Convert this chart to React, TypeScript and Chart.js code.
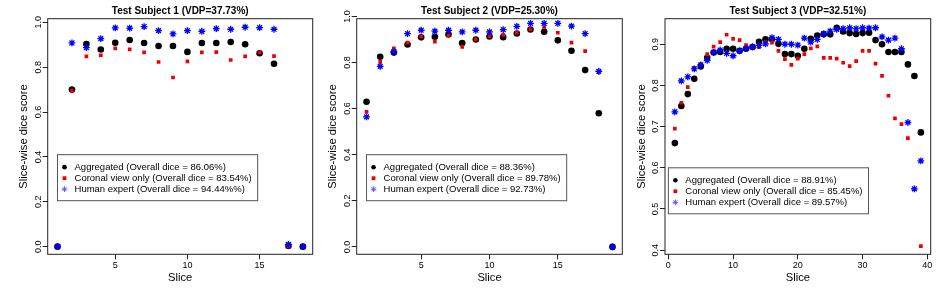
import React, { useEffect, useRef } from "react";
import { Chart, registerables } from "chart.js";

Chart.register(...registerables);

const FONT = '"Liberation Sans", Arial, Helvetica, sans-serif';

// ---------- Data ----------
const seriesNames = ["Aggregated", "Coronal view only", "Human expert"];

const slices1 = [1, 2, 3, 4, 5, 6, 7, 8, 9, 10, 11, 12, 13, 14, 15, 16, 17, 18];
const agg1 = [0, 0.700, 0.903, 0.879, 0.909, 0.921, 0.908, 0.894, 0.894, 0.868, 0.908, 0.908, 0.912, 0.902, 0.862, 0.815, 0.003, 0];
const cor1 = [0, 0.694, 0.848, 0.853, 0.884, 0.879, 0.866, 0.823, 0.754, 0.826, 0.866, 0.867, 0.832, 0.848, 0.866, 0.849, 0, 0];
const hum1 = [0, 0.908, 0.887, 0.927, 0.975, 0.974, 0.981, 0.963, 0.948, 0.963, 0.960, 0.972, 0.969, 0.978, 0.976, 0.969, 0.01, 0];
const legend1 = [
  "Aggregated (Overall dice = 86.06%)",
  "Coronal view only (Overall dice = 83.54%)",
  "Human expert (Overall dice = 94.44%%)",
];

const slices2 = [1, 2, 3, 4, 5, 6, 7, 8, 9, 10, 11, 12, 13, 14, 15, 16, 17, 18, 19];
const agg2 = [0.630, 0.825, 0.843, 0.878, 0.909, 0.912, 0.922, 0.884, 0.900, 0.913, 0.910, 0.926, 0.943, 0.933, 0.896, 0.851, 0.767, 0.580, 0];
const cor2 = [0.586, 0.803, 0.861, 0.886, 0.913, 0.890, 0.917, 0.868, 0.901, 0.914, 0.920, 0.929, 0.945, 0.953, 0.929, 0.886, 0.849, 0.757, 0];
const hum2 = [0.564, 0.783, 0.847, 0.925, 0.940, 0.936, 0.940, 0.933, 0.940, 0.933, 0.943, 0.957, 0.970, 0.970, 0.970, 0.958, 0.925, 0.762, 0];
const legend2 = [
  "Aggregated (Overall dice = 88.36%)",
  "Coronal view only (Overall dice = 89.78%)",
  "Human expert (Overall dice = 92.73%)",
];

const slices3 = [1, 2, 3, 4, 5, 6, 7, 8, 9, 10, 11, 12, 13, 14, 15, 16, 17, 18, 19, 20, 21, 22, 23, 24, 25, 26, 27, 28, 29, 30, 31, 32, 33, 34, 35, 36, 37, 38, 39];
const agg3 = [0.660, 0.750, 0.779, 0.816, 0.846, 0.867, 0.880, 0.881, 0.889, 0.889, 0.884, 0.889, 0.893, 0.906, 0.912, 0.912, 0.901, 0.876, 0.876, 0.872, 0.889, 0.913, 0.921, 0.924, 0.924, 0.940, 0.931, 0.927, 0.925, 0.927, 0.928, 0.910, 0.900, 0.881, 0.881, 0.881, 0.851, 0.823, 0.686];
const cor3 = [0.695, 0.758, 0.796, 0.843, 0.852, 0.876, 0.894, 0.905, 0.923, 0.913, 0.910, 0.898, 0.893, 0.893, 0.905, 0.904, 0.884, 0.864, 0.850, 0.865, 0.876, 0.890, 0.895, 0.867, 0.867, 0.865, 0.855, 0.847, 0.859, 0.884, 0.884, 0.853, 0.823, 0.775, 0.720, 0.706, 0.672, 0.548, 0.410];
const hum3 = [0.736, 0.811, 0.821, 0.840, 0.850, 0.861, 0.880, 0.886, 0.878, 0.872, 0.884, 0.890, 0.894, 0.897, 0.901, 0.916, 0.912, 0.900, 0.900, 0.898, 0.915, 0.905, 0.912, 0.926, 0.932, 0.936, 0.938, 0.940, 0.938, 0.940, 0.939, 0.940, 0.918, 0.910, 0.915, 0.889, 0.710, 0.549, 0.617];
const legend3 = [
  "Aggregated (Overall dice = 88.91%)",
  "Coronal view only (Overall dice = 85.45%)",
  "Human expert (Overall dice = 89.57%)",
];

const titles = ["Test Subject 1 (VDP=37.73%)", "Test Subject 2 (VDP=25.30%)", "Test Subject 3 (VDP=32.51%)"];
const xTicks12 = [5, 10, 15];
const xTicks3 = [0, 10, 20, 30, 40];
const yTicks12 = [0, 0.2, 0.4, 0.6, 0.8, 1.0];
const yTicks3 = [0.4, 0.5, 0.6, 0.7, 0.8, 0.9];
const xLabel = "Slice";
const yLabel = "Slice-wise dice score";

// ---------- Layout ----------
const H = 288;
const PLOT_TOP = 18.7;
const PLOT_BOTTOM = 254.3;

type PanelCfg = {
  title: string;
  slices: number[];
  agg: number[];
  cor: number[];
  hum: number[];
  legend: string[];
  xTicks: number[];
  yTicks: number[];
  xMin: number;
  xMax: number;
  yMin: number;
  yMax: number;
  legendAt: [number, number];
  left: number;
  width: number;
  yAxisWidth: number;
  padRight: number;
};

const panels: PanelCfg[] = [
  {
    title: titles[0], slices: slices1, agg: agg1, cor: cor1, hum: hum1, legend: legend1,
    xTicks: xTicks12, yTicks: yTicks12, xMin: 0.32, xMax: 18.68, yMin: -0.034, yMax: 1.016,
    legendAt: [1, 0.41], left: 0, width: 318, yAxisWidth: 47.7, padRight: 4.7,
  },
  {
    title: titles[1], slices: slices2, agg: agg2, cor: cor2, hum: hum2, legend: legend2,
    xTicks: xTicks12, yTicks: yTicks12, xMin: 0.28, xMax: 19.72, yMin: -0.032, yMax: 0.99,
    legendAt: [1, 0.40], left: 318, width: 310, yAxisWidth: 38.7, padRight: 5.7,
  },
  {
    title: titles[2], slices: slices3, agg: agg3, cor: cor3, hum: hum3, legend: legend3,
    xTicks: xTicks3, yTicks: yTicks3, xMin: -0.52, xMax: 40.52, yMin: 0.39, yMax: 0.962,
    legendAt: [0, 0.6], left: 628, width: 308, yAxisWidth: 37, padRight: 4,
  },
];

const COLORS = { agg: "#000000", cor: "#ee0000", hum: "#0000ff" };

function pts(xs: number[], ys: number[]) {
  return xs.map((x, i) => ({ x, y: ys[i] }));
}

function drawSymbol(ctx: CanvasRenderingContext2D, kind: number, x: number, y: number) {
  if (kind === 0) {
    ctx.fillStyle = COLORS.agg;
    ctx.beginPath();
    ctx.arc(x, y, 2.3, 0, Math.PI * 2);
    ctx.fill();
  } else if (kind === 1) {
    ctx.fillStyle = COLORS.cor;
    ctx.fillRect(x - 1.9, y - 1.9, 3.8, 3.8);
  } else {
    ctx.strokeStyle = "#5a5aff";
    ctx.lineWidth = 1;
    const r = 2.8;
    ctx.beginPath();
    ctx.moveTo(x - r, y); ctx.lineTo(x + r, y);
    ctx.moveTo(x, y - r); ctx.lineTo(x, y + r);
    const d = r * Math.SQRT1_2;
    ctx.moveTo(x - d, y - d); ctx.lineTo(x + d, y + d);
    ctx.moveTo(x - d, y + d); ctx.lineTo(x + d, y - d);
    ctx.stroke();
  }
}

function Panel({ cfg }: { cfg: PanelCfg }) {
  const ref = useRef<HTMLCanvasElement | null>(null);

  useEffect(() => {
    const canvas = ref.current;
    if (!canvas) return;

    const decor = {
      id: "decor",
      afterDraw(chart: any) {
        const { ctx, chartArea: a, scales } = chart;
        ctx.save();
        // frame
        ctx.strokeStyle = "#222";
        ctx.lineWidth = 1;
        ctx.strokeRect(a.left, a.top, a.right - a.left, a.bottom - a.top);

        ctx.fillStyle = "#000";
        ctx.textAlign = "center";
        ctx.textBaseline = "middle";
        // title
        ctx.font = `bold 10px ${FONT}`;
        ctx.fillText(cfg.title, (a.left + a.right) / 2, 11);
        // x label
        ctx.font = `11.2px ${FONT}`;
        ctx.fillText(xLabel, (a.left + a.right) / 2, 277.5);
        // y label
        ctx.save();
        ctx.translate(a.left - 23.5, (a.top + a.bottom) / 2);
        ctx.rotate(-Math.PI / 2);
        ctx.fillText(yLabel, 0, 0);
        ctx.restore();
        // y tick labels (rotated, as in R)
        ctx.font = `9px ${FONT}`;
        for (const t of scales.y.ticks) {
          const y = scales.y.getPixelForValue(t.value);
          ctx.save();
          ctx.translate(a.left - 9.5, y);
          ctx.rotate(-Math.PI / 2);
          ctx.fillText(Number(t.value).toFixed(1), 0, 0);
          ctx.restore();
        }
        // legend
        ctx.font = `9.5px ${FONT}`;
        const lx = scales.x.getPixelForValue(cfg.legendAt[0]);
        const ly = scales.y.getPixelForValue(cfg.legendAt[1]);
        const tw = Math.max(...cfg.legend.map((l) => ctx.measureText(l).width));
        const w = 17 + tw + 6;
        const h = 46;
        ctx.fillStyle = "#fff";
        ctx.fillRect(lx, ly, w, h);
        ctx.strokeStyle = "#555";
        ctx.lineWidth = 1;
        ctx.strokeRect(lx, ly, w, h);
        ctx.textAlign = "left";
        cfg.legend.forEach((label, i) => {
          const ry = ly + 12.5 + i * 11;
          drawSymbol(ctx, i, lx + 7, ry);
          ctx.fillStyle = "#000";
          ctx.fillText(label, lx + 17, ry);
        });
        ctx.restore();
      },
    };

    const chart = new Chart(canvas, {
      type: "scatter",
      data: {
        datasets: [
          {
            label: seriesNames[0],
            data: pts(cfg.slices, cfg.agg),
            pointStyle: "circle",
            pointRadius: 3.3,
            pointBackgroundColor: COLORS.agg,
            pointBorderWidth: 0,
            order: 2,
          },
          {
            label: seriesNames[1],
            data: pts(cfg.slices, cfg.cor),
            pointStyle: "rect",
            pointRadius: 2.6,
            pointBackgroundColor: COLORS.cor,
            pointBorderWidth: 0,
            order: 1,
          },
          {
            label: seriesNames[2],
            data: pts(cfg.slices, cfg.hum),
            pointStyle: "star",
            pointRadius: 3.4,
            pointBorderColor: COLORS.hum,
            pointBackgroundColor: COLORS.hum,
            pointBorderWidth: 1.3,
            order: 0,
          },
        ],
      },
      options: {
        animation: false,
        responsive: false,
        events: [],
        layout: { padding: { left: 0, right: cfg.padRight, top: PLOT_TOP, bottom: 0 } },
        plugins: {
          legend: { display: false },
          tooltip: { enabled: false },
          title: { display: false },
        },
        scales: {
          x: {
            type: "linear",
            min: cfg.xMin,
            max: cfg.xMax,
            afterBuildTicks: (s: any) => {
              s.ticks = cfg.xTicks.map((v) => ({ value: v }));
            },
            afterFit: (s: any) => {
              s.height = H - PLOT_BOTTOM;
            },
            grid: { display: true, drawOnChartArea: false, drawTicks: true, tickLength: 5, color: "#222", lineWidth: 1 },
            border: { display: false },
            ticks: {
              font: { family: FONT, size: 9 },
              color: "#000",
              padding: 1,
              maxRotation: 0,
              autoSkip: false,
              callback: (v: any) => String(v),
            },
          },
          y: {
            type: "linear",
            min: cfg.yMin,
            max: cfg.yMax,
            afterBuildTicks: (s: any) => {
              s.ticks = cfg.yTicks.map((v) => ({ value: v }));
            },
            afterFit: (s: any) => {
              s.width = cfg.yAxisWidth;
            },
            grid: { display: true, drawOnChartArea: false, drawTicks: true, tickLength: 5, color: "#222", lineWidth: 1 },
            border: { display: false },
            ticks: { display: false },
          },
        },
      },
      plugins: [decor],
    } as any);

    return () => chart.destroy();
  }, [cfg]);

  return (
    <div style={{ position: "absolute", left: cfg.left, top: 0, width: cfg.width, height: H }}>
      <canvas ref={ref} width={cfg.width} height={H} style={{ width: cfg.width, height: H, display: "block" }} />
    </div>
  );
}

export default function App() {
  return (
    <div style={{ position: "fixed", left: 0, top: 0, width: 936, height: H, background: "#fff", overflow: "hidden" }}>
      {panels.map((p, i) => (
        <Panel key={i} cfg={p} />
      ))}
    </div>
  );
}
